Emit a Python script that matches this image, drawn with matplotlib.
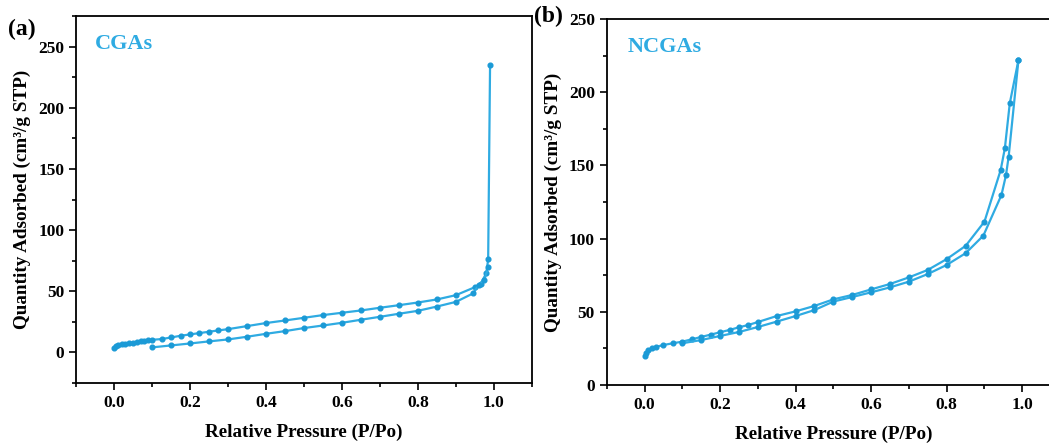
import numpy as np
import matplotlib.pyplot as plt
from matplotlib.ticker import MultipleLocator

# CGAs isotherm (a)
cga_x_up = [0.0, 0.004, 0.01, 0.02, 0.03, 0.04, 0.05, 0.06, 0.07, 0.08, 0.09, 0.1,
            0.125, 0.15, 0.175, 0.2, 0.225, 0.25, 0.275, 0.3, 0.35, 0.4, 0.45, 0.5,
            0.55, 0.6, 0.65, 0.7, 0.75, 0.8, 0.85, 0.9, 0.95, 0.965, 0.98, 0.985, 0.99]
cga_y_up = [3.5, 5.4, 6.0, 6.5, 7.0, 7.5, 8.0, 8.5, 9.0, 9.5, 10.0, 10.3,
            10.9, 12.2, 13.6, 14.7, 15.8, 16.9, 18.0, 19.0, 21.5, 24.0, 26.1, 28.3,
            30.5, 32.4, 34.3, 36.5, 38.6, 40.8, 43.3, 46.8, 53.3, 56.0, 64.7, 76.0, 234.8]
cga_x_low = [0.1, 0.15, 0.2, 0.25, 0.3, 0.35, 0.4, 0.45, 0.5, 0.55, 0.6, 0.65,
             0.7, 0.75, 0.8, 0.85, 0.9, 0.945, 0.96, 0.975, 0.985]
cga_y_low = [4.1, 5.7, 7.3, 9.0, 10.6, 12.8, 15.2, 17.4, 19.9, 22.0, 24.2, 26.7,
             29.1, 31.6, 34.0, 37.5, 41.3, 48.2, 55.0, 59.0, 70.0]

# NCGAs isotherm (b)
ncga_x_up = [0.0, 0.004, 0.01, 0.02, 0.03, 0.05, 0.075, 0.1, 0.125, 0.15, 0.175, 0.2,
             0.225, 0.25, 0.275, 0.3, 0.35, 0.4, 0.45, 0.5, 0.55, 0.6, 0.65, 0.7,
             0.75, 0.8, 0.85, 0.9, 0.943, 0.954, 0.967, 0.99]
ncga_y_up = [19.8, 22.0, 24.0, 25.0, 26.0, 27.3, 28.5, 29.6, 31.2, 32.8, 34.4, 36.0,
             37.6, 39.4, 41.0, 43.0, 47.1, 50.3, 54.0, 58.5, 61.5, 65.3, 69.0, 73.5,
             78.6, 86.0, 95.0, 111.6, 146.9, 161.7, 192.4, 222.0]
ncga_x_low = [0.1, 0.15, 0.2, 0.25, 0.3, 0.35, 0.4, 0.45, 0.5, 0.55, 0.6, 0.65,
              0.7, 0.75, 0.8, 0.85, 0.897, 0.945, 0.957, 0.964, 0.99]
ncga_y_low = [28.5, 30.7, 33.5, 36.2, 39.6, 43.3, 47.1, 51.2, 57.0, 60.1, 63.3, 66.7,
              70.6, 75.8, 82.0, 90.0, 102.0, 129.8, 143.4, 156.0, 222.0]

line_c = '#2FABE2'
mark_c = '#1B9AD6'

plt.rcParams['font.family'] = ['Liberation Serif', 'DejaVu Serif']
plt.rcParams['font.weight'] = 'bold'
plt.rcParams['axes.labelweight'] = 'bold'

fig = plt.figure(figsize=(10.49, 4.46), dpi=100)
ax1 = fig.add_axes([0.0725, 0.1413, 0.4345, 0.8227])
ax2 = fig.add_axes([0.5784, 0.1368, 0.4321, 0.8206])


def draw(ax, xs, ys):
    for x, y in zip(xs, ys):
        ax.plot(x, y, '-', color=line_c, lw=1.6, marker='o', ms=3.4,
                mfc=mark_c, mec=mark_c)


draw(ax1, [cga_x_up, cga_x_low], [cga_y_up, cga_y_low])
draw(ax2, [ncga_x_up, ncga_x_low], [ncga_y_up, ncga_y_low])

for ax in (ax1, ax2):
    ax.set_xlim(-0.1, 1.1)
    ax.xaxis.set_major_locator(MultipleLocator(0.2))
    ax.xaxis.set_minor_locator(MultipleLocator(0.1))
    ax.yaxis.set_major_locator(MultipleLocator(50))
    ax.yaxis.set_minor_locator(MultipleLocator(25))
    ax.tick_params(which='both', direction='out', top=False, right=False,
                   labelsize=12.5, width=1.2)
    ax.tick_params(which='major', length=5)
    ax.tick_params(which='minor', length=3)
    for s in ax.spines.values():
        s.set_linewidth(1.3)
    ax.set_xlabel('Relative Pressure (P/Po)', fontsize=13.8, labelpad=9)
    ax.set_ylabel('Quantity Adsorbed (cm³/g STP)', fontsize=13.8, labelpad=5)

ax1.set_ylim(-25, 275)
ax2.set_ylim(0, 250)

ax1.text(-0.05, 252, 'CGAs', color=line_c, fontsize=16, fontweight='bold', va='center')
ax2.text(-0.045, 231, 'NCGAs', color=line_c, fontsize=16, fontweight='bold', va='center')

fig.text(0.008, 0.935, '(a)', fontsize=17, fontweight='bold', va='center')
fig.text(0.509, 0.962, '(b)', fontsize=17, fontweight='bold', va='center')

fig.savefig('out.png', dpi=100)
